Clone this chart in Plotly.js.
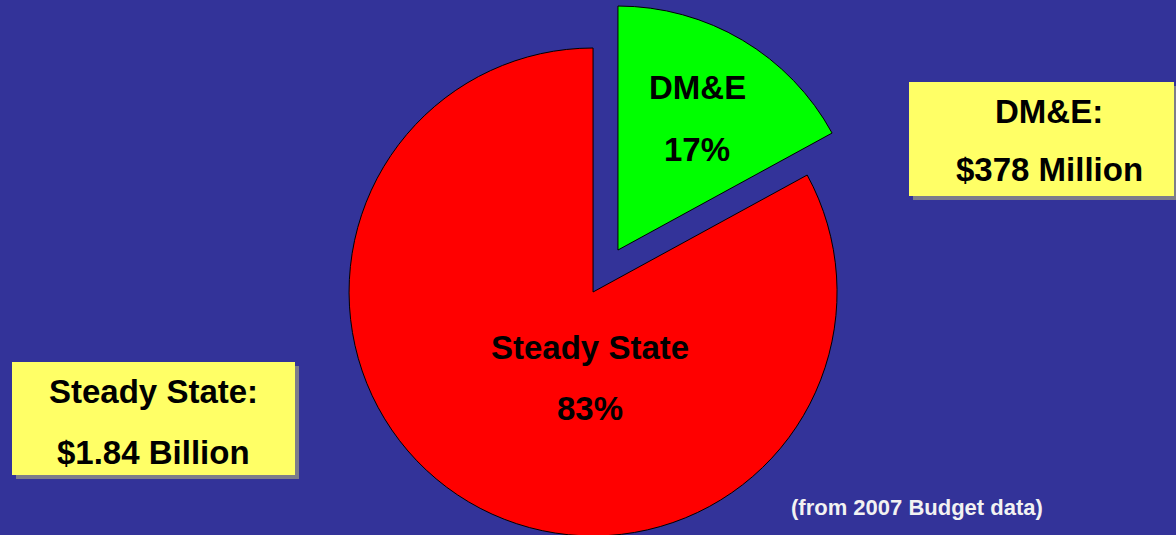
<!DOCTYPE html>
<html>
<head>
<meta charset="utf-8">
<script src="https://cdn.plot.ly/plotly-3.0.1.min.js"></script>
<style>
  html, body { margin: 0; padding: 0; width: 1176px; height: 535px; overflow: hidden; background: #333399; }
  #chart { position: absolute; left: 0; top: -30px; width: 1176px; height: 620px; }
</style>
</head>
<body>
<div id="chart"></div>
<script>
// ---- data ----
const labels = ['DM&E', 'Steady State'];
const values = [378, 1840];            // $ millions (2007 budget)
const amountText = ['$378 Million', '$1.84 Billion'];
const sliceColors = ['#00FF00', '#FF0000'];
const footnote = '(from 2007 Budget data)';

// ---- layout helpers (page pixels -> paper coords) ----
const W = 1176, H = 620, OFF = 30;
const px = x => x / W;
const py = y => 1 - (y + OFF) / H;

const total = values.reduce((a, b) => a + b, 0);
const pct = values.map(v => Math.round(v / total * 100) + '%');

const font = (size, color) => ({family: 'Liberation Sans, Arial, sans-serif', size: size, color: color || '#000000', weight: 700});

function ann(text, x, y, size, color) {
  return {text: text, x: px(x), y: py(y), xref: 'paper', yref: 'paper',
          xanchor: 'center', yanchor: 'middle', showarrow: false, font: font(size, color)};
}

const trace = {
  type: 'pie',
  labels: labels,
  values: values,
  sort: false,
  direction: 'clockwise',
  rotation: 0,
  pull: [0.2, 0],
  textinfo: 'none',
  hoverinfo: 'label+percent',
  marker: {colors: sliceColors, line: {color: '#000000', width: 1}},
  domain: {x: [0.2043, 0.8043], y: [0.00839, 0.9529]},
  showlegend: false
};

const boxes = [
  {x0: 909, x1: 1174, y0: 82, y1: 196},
  {x0: 12, x1: 295, y0: 362, y1: 475}
];
const shapes = [];
boxes.forEach(b => {
  shapes.push({type: 'rect', xref: 'paper', yref: 'paper', layer: 'below',
    x0: px(b.x0 + 4), x1: px(b.x1 + 4), y0: py(b.y0 + 4), y1: py(b.y1 + 4),
    fillcolor: '#7d7d8a', line: {width: 0}});
  shapes.push({type: 'rect', xref: 'paper', yref: 'paper', layer: 'below',
    x0: px(b.x0), x1: px(b.x1), y0: py(b.y0), y1: py(b.y1),
    fillcolor: '#FFFF66', line: {width: 0}});
});

const annotations = [
  ann(labels[0], 697, 88, 33),
  ann(pct[0], 697, 149, 33),
  ann(labels[1], 590, 347, 33),
  ann(pct[1], 590, 408, 33),
  ann(labels[0] + ':', 1049, 112, 33),
  ann(amountText[0], 1049, 170, 33),
  ann(labels[1] + ':', 153, 391, 33),
  ann(amountText[1], 153, 452, 33),
  ann(footnote, 917, 507, 22, '#F2F2F2')
];

const layout = {
  width: W, height: H,
  margin: {l: 0, r: 0, t: 0, b: 0},
  paper_bgcolor: '#333399',
  plot_bgcolor: '#333399',
  shapes: shapes,
  annotations: annotations
};

Plotly.newPlot('chart', [trace], layout, {displayModeBar: false, staticPlot: true});
</script>
</body>
</html>
